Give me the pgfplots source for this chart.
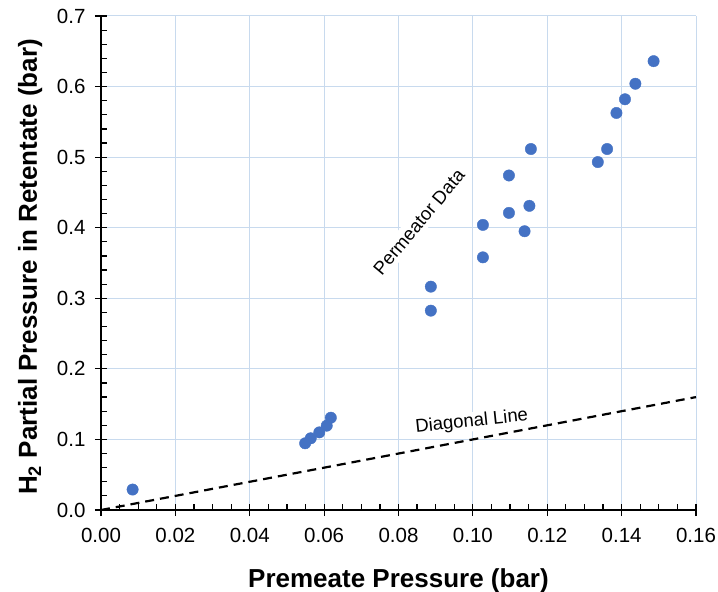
\documentclass[border=0pt]{standalone}
\usepackage{fontspec}
\setmainfont{Liberation Sans}
\usepackage{pgfplots}
\pgfplotsset{compat=1.18}

\definecolor{ptblue}{RGB}{68,114,196}
\definecolor{gridblue}{RGB}{200,218,238}

\begin{document}
\begin{tikzpicture}
\begin{axis}[
  at={(0,0)}, anchor=south west,
  scale only axis,
  width=595bp, height=494bp,
  xmin=0, xmax=0.16, ymin=0, ymax=0.7,
  xtick={0,0.02,0.04,0.06,0.08,0.10,0.12,0.14,0.16},
  ytick={0,0.1,0.2,0.3,0.4,0.5,0.6,0.7},
  minor x tick num=3,
  minor y tick num=4,
  scaled ticks=false,
  axis lines=left,
  axis line style={-, black, line width=1.8bp},
  tick style={black, line width=1.2bp},
  tick align=center,
  major tick length=12bp,
  minor tick length=6bp,
  minor x tick style={yshift=3bp},
  minor y tick style={xshift=3bp},
  grid=major,
  major grid style={gridblue, line width=1bp},
  /pgf/number format/assume math mode=true,
  xticklabel style={font=\fontsize{20.5bp}{24bp}\selectfont, yshift=-9bp,
    /pgf/number format/.cd, fixed, fixed zerofill, precision=2},
  yticklabel style={font=\fontsize{20.5bp}{24bp}\selectfont, xshift=-6bp,
    /pgf/number format/.cd, fixed, fixed zerofill, precision=1},
  xlabel={Premeate Pressure (bar)},
  ylabel={H\textsubscript{2} Partial Pressure in Retentate (bar)},
  xlabel style={font=\fontsize{26bp}{30bp}\selectfont\bfseries,
    at={(axis description cs:0.5,-0.1559)}, anchor=base},
  ylabel style={font=\fontsize{26bp}{30bp}\selectfont\bfseries,
    at={(axis description cs:-0.1076,0.492)}, anchor=base},
  clip=false,
]
% y = x reference line
\addplot[black, line width=2.2bp, dash pattern=on 9bp off 6bp] coordinates {(0,0) (0.16,0.16)};

% measured partial pressures
\addplot[only marks, mark=*, mark size=5.7bp, mark options={fill=ptblue, draw=ptblue}]
  table[row sep=\\] {
  x y \\
  0.0085 0.029 \\
  0.0549 0.0945 \\
  0.0564 0.1016 \\
  0.0587 0.110 \\
  0.0607 0.1195 \\
  0.0618 0.1308 \\
  0.0887 0.3165 \\
  0.0887 0.2825 \\
  0.1027 0.404 \\
  0.1027 0.358 \\
  0.1097 0.474 \\
  0.1097 0.421 \\
  0.1152 0.431 \\
  0.1139 0.395 \\
  0.1156 0.5115 \\
  0.1336 0.493 \\
  0.1361 0.5115 \\
  0.1386 0.5626 \\
  0.1409 0.582 \\
  0.1437 0.604 \\
  0.1486 0.636 \\
};

\node[rotate=50, fill=white, inner sep=4bp, font=\fontsize{18.5bp}{21bp}\selectfont]
  at (axis cs:0.0855,0.408) {Permeator Data};
\node[rotate=6, fill=white, inner sep=1bp, font=\fontsize{18.5bp}{21bp}\selectfont]
  at (axis cs:0.0997,0.125) {Diagonal Line};
\end{axis}
\pgfresetboundingbox
\path[use as bounding box] (-101bp,-82bp) rectangle (617bp,510bp);
\end{tikzpicture}
\end{document}
